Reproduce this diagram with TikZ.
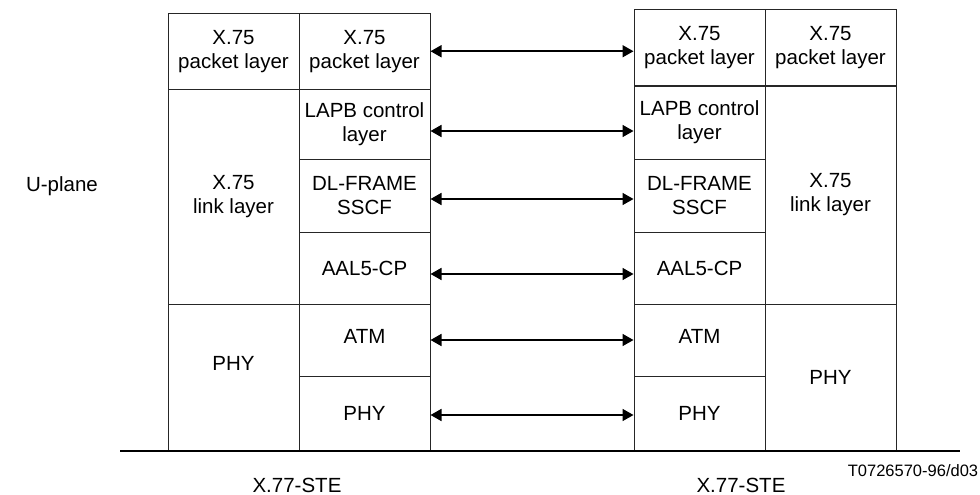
\documentclass[tikz,border=0pt]{standalone}
\usepackage{fontspec}
\setmainfont{Liberation Sans}
\usetikzlibrary{arrows.meta,positioning}

\begin{document}
\begin{tikzpicture}[x=1pt, y=-1pt,
        layer/.style = {rectangle, draw=black!85, line width = 1pt, inner sep=0pt, align=center, font=\fontsize{20.5}{24}\selectfont},
        peer/.style = {line width = 1.7pt, {Triangle[length=11pt,width=12pt]}-{Triangle[length=11pt,width=12pt]}},
        lbl/.style = {font=\fontsize{20.5}{24}\selectfont}]
        \useasboundingbox (0,0) rectangle (980,495);
        \def\colw{131}

        % left X.77-STE
        \node(pktA) [layer, minimum width = \colw pt, minimum height = 75.5pt] at (233.5,51.25) {X.75\\packet layer};
        \node(pktB) [layer, minimum width = \colw pt, minimum height = 75.5pt] at (364.5,51.25) {X.75\\packet layer};
        \node(linkA) [layer, minimum width = \colw pt, minimum height = 215pt] at (233.5,196.5) {X.75\\link layer};
        \node(lapbL) [layer, minimum width = \colw pt, minimum height = 70pt] at (364.5,124) {LAPB control\\layer};
        \node(dlL) [layer, minimum width = \colw pt, minimum height = 73pt] at (364.5,195.5) {DL-FRAME\\SSCF};
        \node(aalL) [layer, minimum width = \colw pt, minimum height = 72pt] at (364.5,268) {AAL5-CP};
        \node(phyA) [layer, minimum width = \colw pt, minimum height = 147pt] at (233.5,377.5) {\raisebox{28pt}{PHY}};
        \node(atmL) [layer, minimum width = \colw pt, minimum height = 72pt] at (364.5,340) {\raisebox{8pt}{ATM}};
        \node(phyL) [layer, minimum width = \colw pt, minimum height = 75pt] at (364.5,413.5) {PHY};

        % right X.77-STE
        \node(pktR) [layer, minimum width = \colw pt, minimum height = 76.5pt] at (699.5,47.75) {X.75\\packet layer};
        \node(pktD) [layer, minimum width = \colw pt, minimum height = 76.5pt] at (830.5,47.75) {X.75\\packet layer};
        \node(lapbR) [layer, minimum width = \colw pt, minimum height = 73pt] at (699.5,122.5) {LAPB control\\layer};
        \node(dlR) [layer, minimum width = \colw pt, minimum height = 73pt] at (699.5,195.5) {DL-FRAME\\SSCF};
        \node(aalR) [layer, minimum width = \colw pt, minimum height = 72pt] at (699.5,268) {AAL5-CP};
        \node(atmR) [layer, minimum width = \colw pt, minimum height = 72pt] at (699.5,340) {\raisebox{8pt}{ATM}};
        \node(phyR) [layer, minimum width = \colw pt, minimum height = 75pt] at (699.5,413.5) {PHY};
        \node(linkD) [layer, minimum width = \colw pt, minimum height = 218pt] at (830.5,195) {X.75\\link layer};
        \node(phyD) [layer, minimum width = \colw pt, minimum height = 147pt] at (830.5,377.5) {PHY};

        % peer-to-peer arrows
        \foreach \l/\r/\dy in {pktB/pktR/0, lapbL/lapbR/7, dlL/dlR/3.5, aalL/aalR/6, atmL/atmR/0, phyL/phyR/1.5}
            \draw[peer] ([yshift=-\dy pt]\l.east) -- ([yshift=-\dy pt]\l.east -| \r.west);

        % ground line
        \coordinate (baseL) at (120,451);
        \coordinate (baseR) at (960,451);
        \draw[line width = 1.6pt] (baseL) -- (baseR);

        \node(uplane) [lbl] at (62,186) {U-plane};
        \node(steL) [lbl] at (297,485) {X.77-STE};
        \node(steR) [lbl] at (741,485) {X.77-STE};
        \node(figno) [font=\fontsize{16.5}{18}\selectfont] at (913,471) {T0726570-96/d03};
    \end{tikzpicture}
\end{document}
